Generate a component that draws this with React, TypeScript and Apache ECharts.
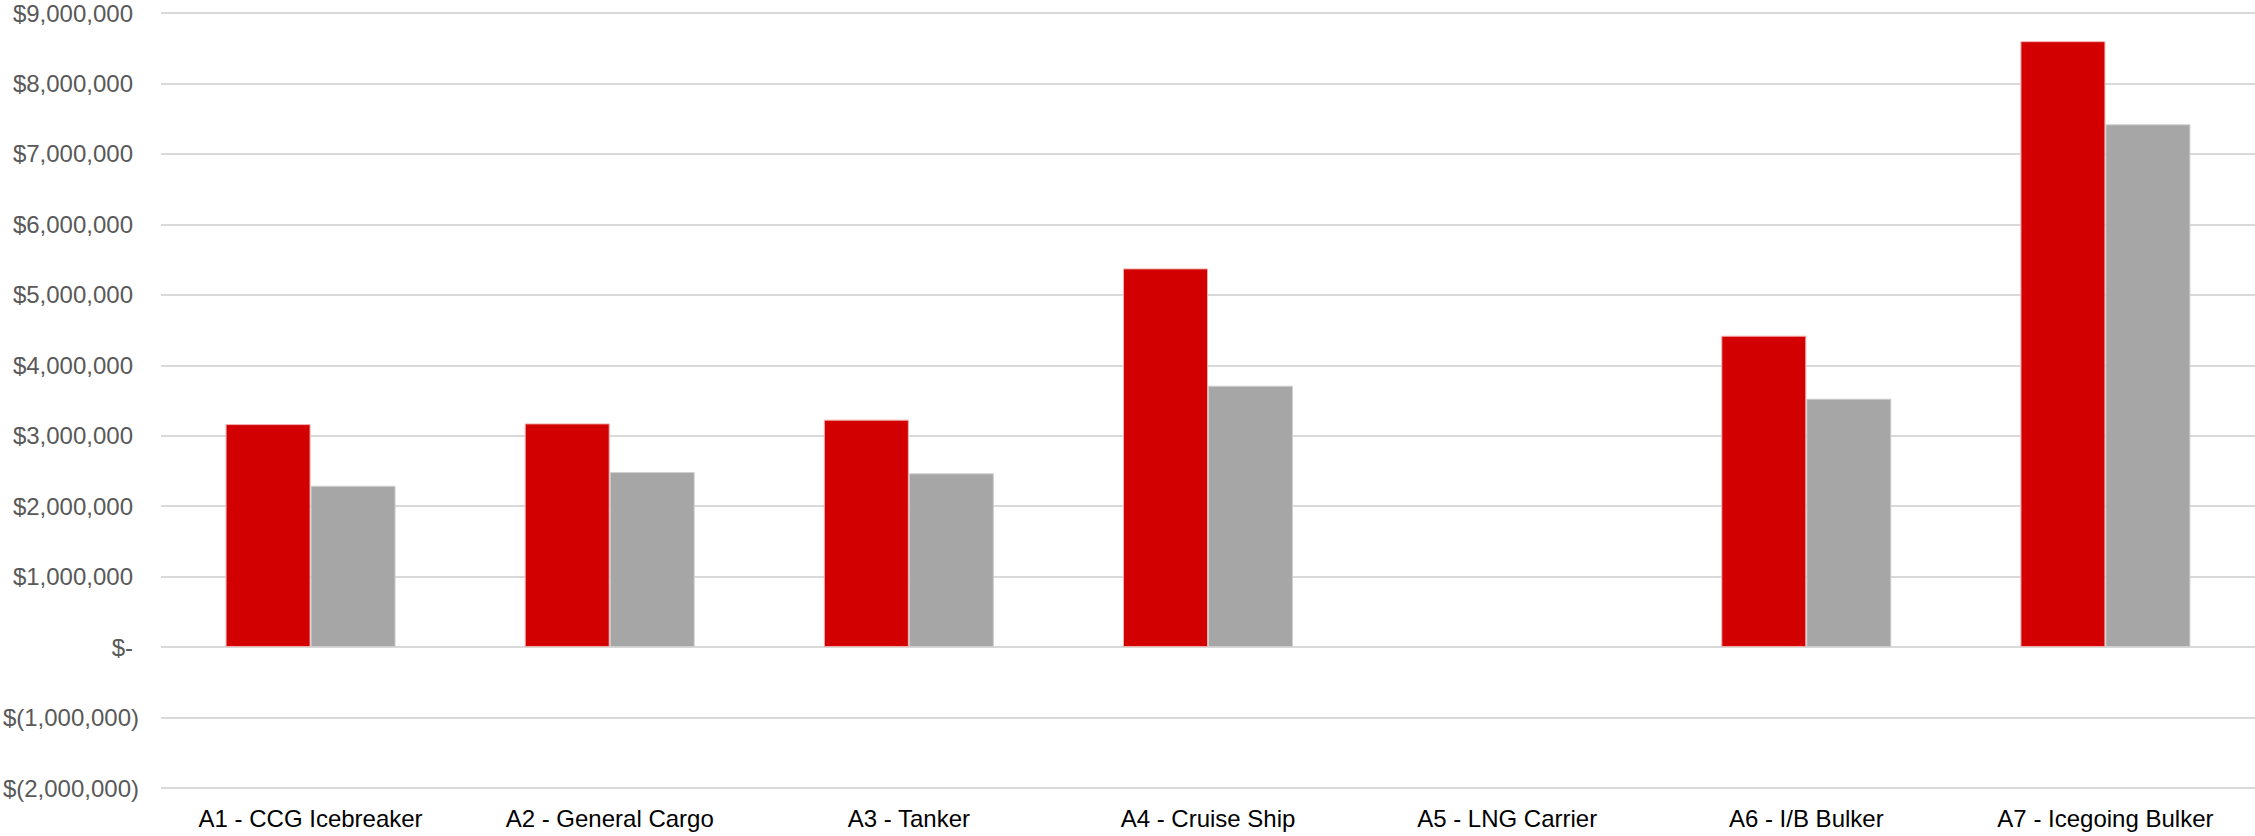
import React, { useEffect, useRef } from "react";
import * as echarts from "echarts";

const categories = [
  "A1 - CCG Icebreaker",
  "A2 - General Cargo",
  "A3 - Tanker",
  "A4 - Cruise Ship",
  "A5 - LNG Carrier",
  "A6 - I/B Bulker",
  "A7 - Icegoing Bulker",
];
const seriesRed = [3165000, 3175000, 3228000, 5375000, null, 4420000, 8600000];
const seriesGray = [2290000, 2484000, 2466000, 3710000, null, 3526000, 7420000];
const yMin = -2000000;
const yMax = 9000000;
const yStep = 1000000;

function fmt(v: number): string {
  if (v === 0) return "{pos|$-}";
  const s = Math.abs(v).toLocaleString("en-US");
  return v < 0 ? "$(" + s + ")" : "{pos|$" + s + "}";
}

export default function App() {
  const ref = useRef<HTMLDivElement>(null);
  useEffect(() => {
    document.body.style.margin = "0";
    const chart = echarts.init(ref.current!, undefined, { renderer: "svg" });
    const font = "'Liberation Sans', Arial, sans-serif";
    chart.setOption({
      animation: false,
      backgroundColor: "#ffffff",
      grid: {
        left: 161,
        right: 0,
        top: 13,
        bottom: 48,
        containLabel: false,
        outerBoundsMode: "none",
      },
      xAxis: {
        type: "category",
        data: categories,
        axisLine: { show: false, onZero: false },
        axisTick: { show: false },
        axisLabel: {
          color: "#000000",
          fontSize: 24,
          fontFamily: font,
          margin: 18,
          interval: 0,
        },
        splitLine: { show: false },
      },
      yAxis: {
        type: "value",
        min: yMin,
        max: yMax,
        interval: yStep,
        axisLine: { show: false },
        axisTick: { show: false },
        splitLine: { lineStyle: { color: "#d9d9d9", width: 2 } },
        axisLabel: {
          color: "#595959",
          fontSize: 24,
          fontFamily: font,
          margin: 22,
          formatter: fmt,
          rich: {
            pos: {
              color: "#595959",
              fontSize: 24,
              fontFamily: font,
              padding: [0, 6, 0, 0],
            },
          },
        },
      },
      series: [
        {
          name: "Series 1",
          type: "bar",
          data: seriesRed,
          barWidth: 85,
          barGap: "0%",
          itemStyle: { color: "#d20000", borderColor: "#f2b0b0", borderWidth: 1 },
        },
        {
          name: "Series 2",
          type: "bar",
          data: seriesGray,
          barWidth: 85,
          barGap: "0%",
          itemStyle: { color: "#a6a6a6", borderColor: "#cfcfcf", borderWidth: 1 },
        },
      ],
    });
    return () => chart.dispose();
  }, []);
  return <div ref={ref} style={{ width: 2255, height: 836 }} />;
}
